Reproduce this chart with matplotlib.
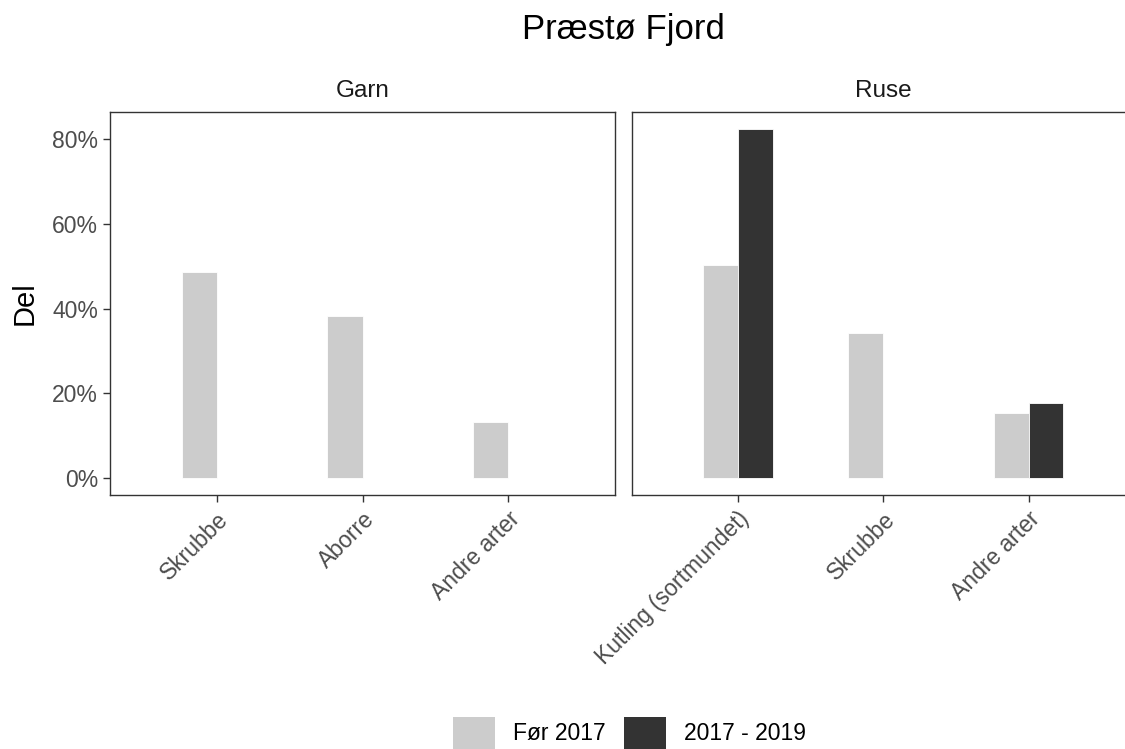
import numpy as np
import matplotlib.pyplot as plt
from matplotlib.patches import Patch
from matplotlib.ticker import FuncFormatter

plt.rcParams['font.family'] = ['Liberation Sans', 'DejaVu Sans']

# data (share of catch)
periods = ['Før 2017', '2017 - 2019']
colors = ['#CCCCCC', '#333333']

garn_species = ['Skrubbe', 'Aborre', 'Andre arter']
garn_for = [0.486, 0.382, 0.132]
garn_after = [np.nan, np.nan, np.nan]

ruse_species = ['Kutling (sortmundet)', 'Skrubbe', 'Andre arter']
ruse_for = [0.503, 0.343, 0.154]
ruse_after = [0.824, np.nan, 0.176]

W, H = 1125, 749
fig = plt.figure(figsize=(W / 100, H / 100), dpi=100)

def px_ax(left, top, width, height):
    return fig.add_axes([left / W, (H - top - height) / H, width / W, height / H])

ax1 = px_ax(110, 112, 505, 383)
ax2 = px_ax(631.7, 112, 503, 383)

bw = 0.24
fs = 16.5
pct = FuncFormatter(lambda v, _: f'{v * 100:.0f}%')

def draw_panel(ax, species, before, after, title):
    x = np.arange(1, len(species) + 1)
    ax.bar(x - bw / 2, before, width=bw, color=colors[0], edgecolor='white', linewidth=0.6)
    ax.bar(x + bw / 2, after, width=bw, color=colors[1], edgecolor='white', linewidth=0.6)
    ax.set_xlim(0.27, 3.73)
    ax.set_ylim(-0.040, 0.864)
    ax.set_xticks(x)
    ax.set_xticklabels(species, rotation=45, ha='right', va='top',
                       rotation_mode='anchor', fontsize=fs, color='#4D4D4D')
    ax.set_yticks([0, 0.2, 0.4, 0.6, 0.8])
    ax.yaxis.set_major_formatter(pct)
    ax.tick_params(axis='both', length=5, width=1, color='#333333',
                   labelsize=fs, labelcolor='#4D4D4D')
    ax.tick_params(axis='x', pad=4)
    for s in ax.spines.values():
        s.set_color('#333333')
        s.set_linewidth(1)
    ax.set_title(title, fontsize=17.5, color='#1A1A1A', pad=11)

draw_panel(ax1, garn_species, garn_for, garn_after, 'Garn')
draw_panel(ax2, ruse_species, ruse_for, ruse_after, 'Ruse')
ax2.tick_params(axis='y', left=False, labelleft=False)

ax1.set_ylabel('Del', fontsize=21, labelpad=10)

fig.text(0.554, 0.960, 'Præstø Fjord', ha='center', va='center', fontsize=25)

handles = [Patch(facecolor=c, edgecolor='none') for c in colors]
fig.legend(handles, periods, loc='center', bbox_to_anchor=(0.5596, 0.0214),
           ncol=2, frameon=False, fontsize=fs, handlelength=1.83, handleheight=1.83,
           handletextpad=0.78, columnspacing=0.8)

fig.savefig('out.png', dpi=100)
